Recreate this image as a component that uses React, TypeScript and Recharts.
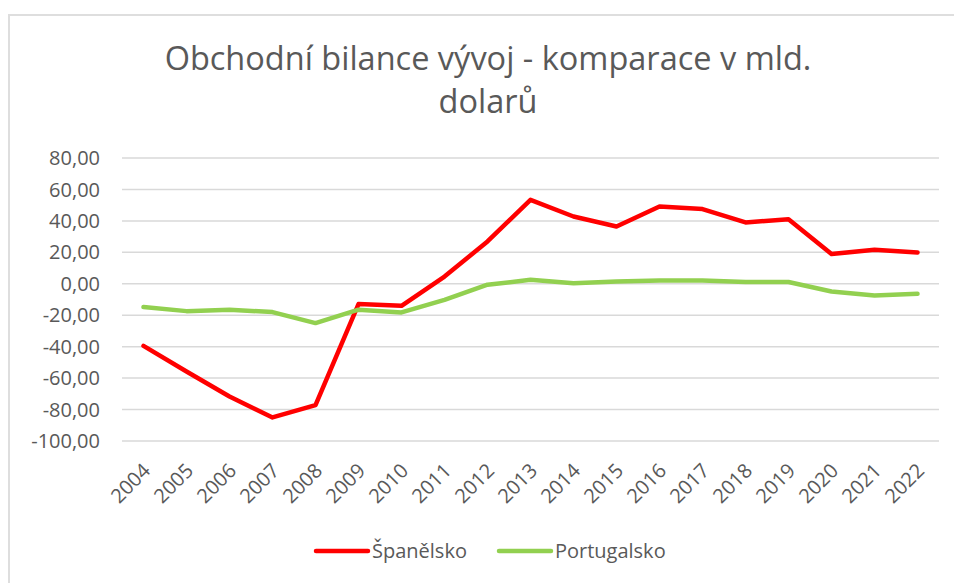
import { LineChart, Line, XAxis, YAxis, CartesianGrid } from 'recharts';

const years = [
  '2004', '2005', '2006', '2007', '2008', '2009', '2010', '2011', '2012', '2013',
  '2014', '2015', '2016', '2017', '2018', '2019', '2020', '2021', '2022',
];
const spain = [
  -39.5, -55.8, -71.7, -85.0, -77.2, -12.9, -14.0, 4.6, 26.9, 53.4,
  42.8, 36.4, 49.2, 47.5, 39.0, 41.1, 18.9, 21.6, 19.9,
];
const portugal = [
  -14.8, -17.4, -16.5, -18.0, -25.0, -16.5, -18.2, -10.2, -0.6, 2.5,
  0.4, 1.5, 2.1, 2.1, 1.1, 1.1, -4.9, -7.4, -6.4,
];
const yTicks = [-100, -80, -60, -40, -20, 0, 20, 40, 60, 80];
const seriesKeys = ['spain', 'portugal'];
const seriesNames = ['Španělsko', 'Portugalsko'];
const seriesColors = ['#ff0000', '#92d050'];
const titleLines = ['Obchodní bilance vývoj - komparace v mld.', 'dolarů'];

const TEXT = '#595959';
const FONT = '"Open Sans", sans-serif';

const data = years.map((year, i) => ({ year, spain: spain[i], portugal: portugal[i] }));

const formatValue = (v: number) => v.toFixed(2).replace('.', ',');

export default function App() {
  return (
    <div
      style={{
        position: 'absolute',
        left: 0,
        top: 0,
        width: 954,
        height: 583,
        overflow: 'hidden',
        background: '#fff',
        fontFamily: FONT,
      }}
    >
      {/* chart frame, runs off the right and bottom edges */}
      <div
        style={{
          position: 'absolute',
          left: 8,
          top: 14,
          width: 980,
          height: 620,
          border: '2px solid #dedede',
          boxSizing: 'border-box',
        }}
      />
      <div
        style={{
          position: 'absolute',
          left: 0,
          top: 36,
          width: 976,
          textAlign: 'center',
          fontSize: 32.5,
          lineHeight: '43px',
          color: TEXT,
        }}
      >
        {titleLines.map((line) => (
          <div key={line}>{line}</div>
        ))}
      </div>
      <div style={{ position: 'absolute', left: 0, top: 0 }}>
        <LineChart
          width={954}
          height={583}
          data={data}
          margin={{ top: 158, right: 15, bottom: 82, left: 0 }}
        >
          <CartesianGrid vertical={false} stroke="#d9d9d9" strokeWidth={1.5} />
          <XAxis
            dataKey="year"
            height={60}
            padding={{ left: 21.5, right: 21.5 }}
            axisLine={false}
            tickLine={false}
            interval={0}
            angle={-45}
            textAnchor="end"
            tickMargin={15}
            dx={-2}
            tick={{ fontSize: 20, fill: TEXT, fontFamily: FONT }}
          />
          <YAxis
            width={122}
            domain={[-100, 80]}
            ticks={yTicks}
            axisLine={false}
            tickLine={false}
            tickMargin={16}
            tickFormatter={formatValue}
            tick={{ fontSize: 20, fill: TEXT, fontFamily: FONT }}
          />
          {seriesKeys.map((key, i) => (
            <Line
              key={key}
              dataKey={key}
              name={seriesNames[i]}
              stroke={seriesColors[i]}
              strokeWidth={4.5}
              strokeLinecap="round"
              strokeLinejoin="round"
              dot={false}
              activeDot={false}
              isAnimationActive={false}
            />
          ))}
        </LineChart>
      </div>
      <div
        style={{
          position: 'absolute',
          left: 313,
          top: 536,
          display: 'flex',
          alignItems: 'center',
          fontSize: 20,
          color: TEXT,
          lineHeight: '30px',
        }}
      >
        {seriesNames.map((name, i) => (
          <div
            key={name}
            style={{ display: 'flex', alignItems: 'center', marginRight: i === 0 ? 29 : 0 }}
          >
            <svg width={58} height={10}>
              <line
                x1={3}
                y1={5}
                x2={55}
                y2={5}
                stroke={seriesColors[i]}
                strokeWidth={4.5}
                strokeLinecap="round"
              />
            </svg>
            <span style={{ marginLeft: 1 }}>{name}</span>
          </div>
        ))}
      </div>
    </div>
  );
}
